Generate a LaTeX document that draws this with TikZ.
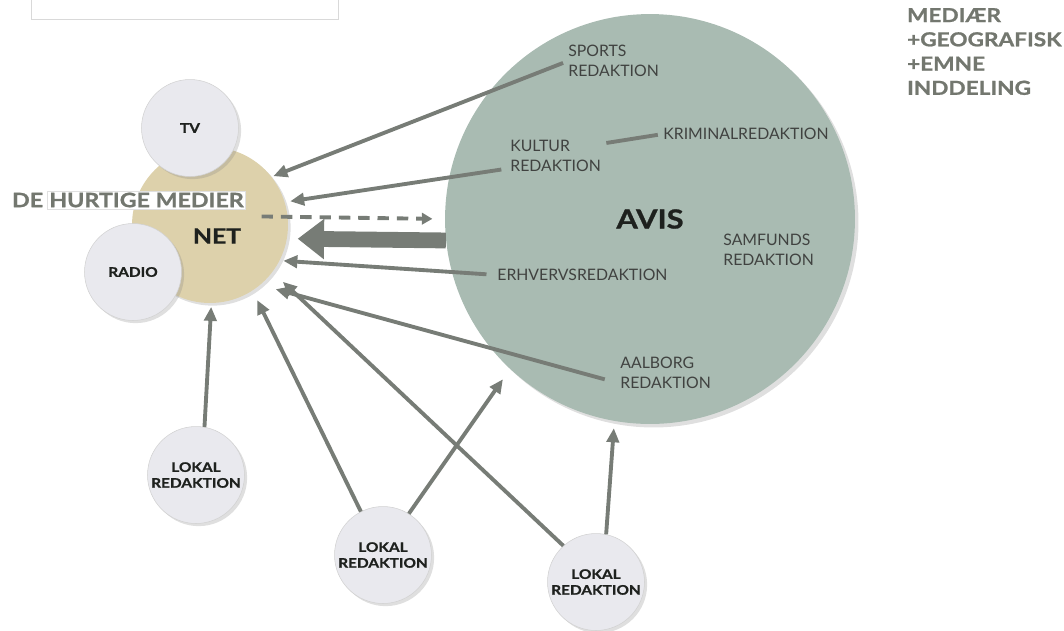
\documentclass[tikz,border=0pt]{standalone}
\usepackage{fontspec}
\setmainfont{Lato}
\newfontfamily\heavyfont{Lato Bold}[FakeStretch=1.17, FakeBold=1]
\usepackage{tikz}
\usetikzlibrary{arrows.meta,positioning,shadows}
\definecolor{arrowgray}{RGB}{119,124,118}
\definecolor{avisgreen}{RGB}{169,187,178}
\definecolor{nettan}{RGB}{221,209,171}
\definecolor{bubblefill}{RGB}{233,233,238}
\definecolor{inkdark}{RGB}{30,33,30}
\definecolor{headgray}{RGB}{115,119,111}

\begin{document}
\begin{tikzpicture}[x=0.02cm,y=-0.02cm,
  bubble/.style={circle, fill=bubblefill, draw=black!18, line width=0.3pt, minimum size=1.94cm, inner sep=0pt, align=center, text=inkdark, font=\heavyfont\fontsize{7.5}{9}\selectfont, drop shadow={shadow xshift=1.5pt, shadow yshift=-1.5pt, opacity=0.25}},
  dept/.style={anchor=west, inner sep=0pt, align=left, text=inkdark!85, font=\fontsize{9}{11.3}\selectfont},
  arr/.style={draw=arrowgray, line width=2.2pt, -{Triangle[length=8pt,width=7pt]}},
  link/.style={draw=arrowgray, line width=2.2pt, shorten <=3pt, shorten >=3pt},
  headline/.style={text=headgray, font=\heavyfont\fontsize{11.3}{14}\selectfont, inner sep=1pt}]
\useasboundingbox (0,0) rectangle (1064,630);
% cut-off box top left
\draw[black!15, fill=white] (31,-3) rectangle (338,19);
% big circles
\node[circle, fill=avisgreen, minimum size=8.2cm, inner sep=0pt, text=inkdark, font=\heavyfont\fontsize{15}{17}\selectfont, drop shadow={shadow xshift=2pt, shadow yshift=-2pt, opacity=0.25}] (avis) at (650,219) {AVIS};
\node[circle, fill=nettan, minimum size=3.12cm, inner sep=0pt, drop shadow={shadow xshift=1.5pt, shadow yshift=-1.5pt, opacity=0.25}] (net) at (210,225) {};
\node[text=inkdark, font=\heavyfont\fontsize{12}{14}\selectfont] (netlabel) at (217,236) {NET};
% media bubbles
\node[bubble] (tv) at (190,128) {TV};
\node[bubble] (radio) at (133,272) {RADIO};
\node[bubble] (lokal1) at (196,475) {LOKAL\\REDAKTION};
\node[bubble] (lokal2) at (383,555) {LOKAL\\REDAKTION};
\node[bubble] (lokal3) at (596,582) {LOKAL\\REDAKTION};
% desks inside AVIS
\node[dept] (sports) at (568,61) {SPORTS\\REDAKTION};
\node[dept] (kultur) at (510,156) {KULTUR\\REDAKTION};
\node[dept] (kriminal) at (663,134) {KRIMINALREDAKTION};
\node[dept] (samfunds) at (723,250) {SAMFUNDS\\REDAKTION};
\node[dept] (erhverv) at (497,275) {ERHVERVSREDAKTION};
\node[dept] (aalborg) at (620,373) {AALBORG\\REDAKTION};
% desks to NET
\draw[arr, shorten <=3pt, shorten >=1pt] (sports.west) -- (net.38);
\draw[arr, shorten <=5pt, shorten >=3pt] (kultur.195) -- (net.17);
\draw[arr, shorten <=6pt, shorten >=2pt] (erhverv.west) -- (net.-27);
\draw[arr, shorten <=9pt, shorten >=9pt] (aalborg.193) -- (net.-50);
\draw[link] (kultur.15) -- (kriminal.west);
% AVIS to NET
\draw[arrowgray, line width=2.2pt, dash pattern=on 6.5pt off 4.5pt, -{Triangle[length=6pt,width=6.5pt]}, shorten <=-15pt, shorten >=7pt] (net.6) -- (avis.180);
\draw[arrowgray, line width=9pt, -{Triangle[length=15pt,width=22pt]}, shorten >=6pt] (avis.186) -- (net.-10);
% local desks
\draw[arr, shorten >=2pt] (lokal1.80) -- (net.-89);
\draw[arr, shorten >=6pt] (lokal2.117) -- (net.-57);
\draw[arr, shorten >=7pt] (lokal2.58) -- (avis.-133);
\draw[arr, shorten >=8pt] (lokal3.132) -- (net.-37);
\draw[arr, shorten >=4pt] (lokal3.78) -- (avis.-100);
% headings
\node[headline, anchor=west] (de) at (10,200) {DE};
\node[headline, fill=white, draw=black!12, line width=0.3pt, right=0.04cm of de] (hurtige) {HURTIGE MEDIER};
\node[headline, anchor=north west, align=left, font=\heavyfont\fontsize{11}{13.8}\selectfont] (inddeling) at (905,6) {MEDIÆR\\+GEOGRAFISK\\+EMNE\\INDDELING};
\end{tikzpicture}
\end{document}
